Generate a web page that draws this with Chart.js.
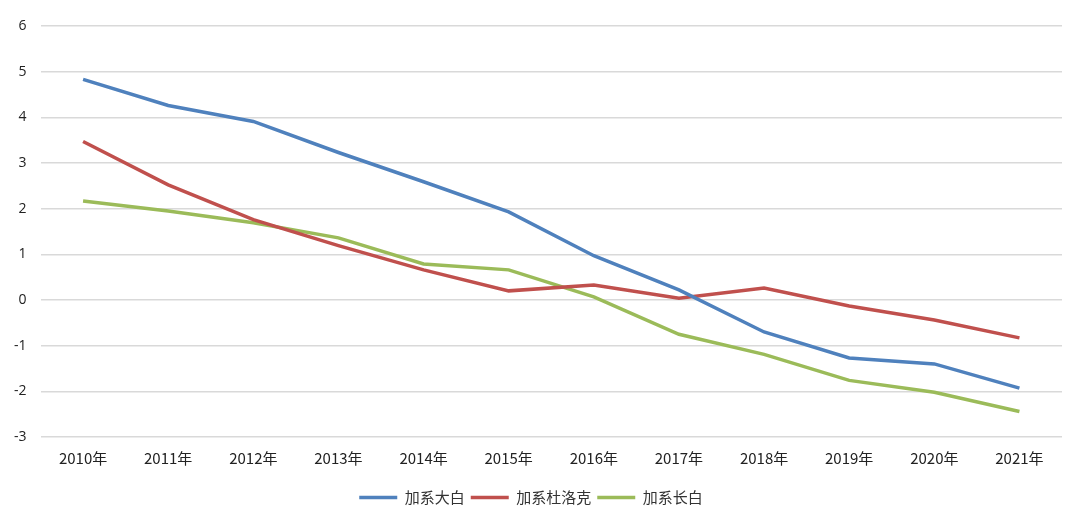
<!DOCTYPE html>
<html>
<head>
<meta charset="utf-8">
<script src="https://cdn.jsdelivr.net/npm/chart.js@4.4.1/dist/chart.umd.min.js"></script>
<style>
  html, body { margin: 0; padding: 0; background: #fff; }
  #wrap { width: 1080px; height: 523px; }
</style>
</head>
<body>
<div id="wrap"><canvas id="chart-trend"></canvas></div>
<script>
var years = ['2010年', '2011年', '2012年', '2013年', '2014年', '2015年',
             '2016年', '2017年', '2018年', '2019年', '2020年', '2021年'];
var dabai = [4.83, 4.26, 3.91, 3.23, 2.59, 1.93, 0.97, 0.22, -0.70, -1.27, -1.40, -1.93];
var duluoke = [3.47, 2.52, 1.76, 1.19, 0.66, 0.20, 0.33, 0.04, 0.26, -0.13, -0.44, -0.83];
var changbai = [2.17, 1.95, 1.69, 1.36, 0.79, 0.66, 0.07, -0.75, -1.19, -1.76, -2.02, -2.44];
var yTicks = [-3, -2, -1, 0, 1, 2, 3, 4, 5, 6];

function line(label, values, color) {
    return {
        label: label,
        data: values,
        borderColor: color,
        backgroundColor: color,
        borderWidth: 3.5,
        pointRadius: 0,
        pointStyle: 'line',
        tension: 0,
        fill: false
    };
}

var config_trend = {
    type: 'line',
    data: {
        labels: years,
        datasets: [
            line('加系大白', dabai, '#4f81bd'),
            line('加系杜洛克', duluoke, '#c0504d'),
            line('加系长白', changbai, '#9bbb59')
        ]
    },
    options: {
        responsive: true,
        maintainAspectRatio: false,
        animation: false,
        layout: { padding: { left: 0, right: 18, top: 26, bottom: 8 } },
        plugins: {
            tooltip: { enabled: false },
            legend: {
                position: 'bottom',
                labels: {
                    usePointStyle: true,
                    pointStyleWidth: 38,
                    boxHeight: 3,
                    padding: 6,
                    color: '#333',
                    font: { family: '"Noto Sans CJK SC"', size: 15 }
                }
            }
        },
        scales: {
            x: {
                offset: true,
                grid: { display: false },
                border: { display: false },
                afterFit: function(axis) { axis.height += 13; },
                ticks: {
                    color: '#222',
                    maxRotation: 0,
                    padding: 4,
                    font: { family: '"Noto Sans CJK SC"', size: 15 }
                }
            },
            y: {
                min: -3,
                max: 6,
                afterBuildTicks: function(axis) {
                    axis.ticks = yTicks.map(function(v) { return { value: v }; });
                },
                grid: { color: '#d9d9d9', lineWidth: 1.5, drawTicks: false },
                border: { display: false },
                ticks: {
                    color: '#222',
                    padding: 14,
                    font: { family: '"Open Sans"', size: 14 }
                }
            }
        }
    }
};

window.onload = function() {
    var ctx = document.getElementById('chart-trend').getContext('2d');
    window.myLine = new Chart(ctx, config_trend);
};
</script>
</body>
</html>
